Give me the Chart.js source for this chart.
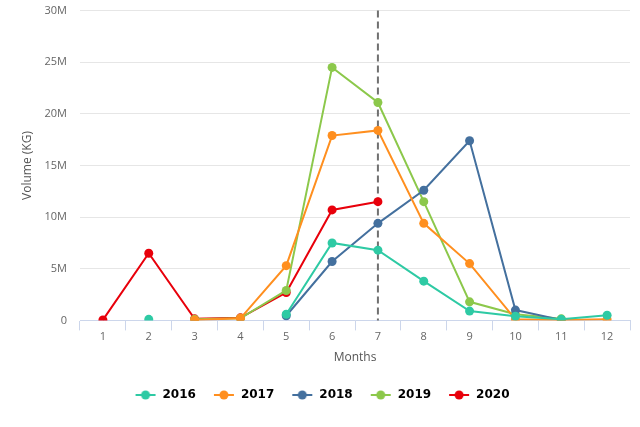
<!DOCTYPE html>
<html>
<head>
<meta charset="utf-8">
<script src="https://cdn.jsdelivr.net/npm/chart.js@4"></script>
<style>
  html, body { margin: 0; padding: 0; background: #fff; overflow: hidden; }
  #wrap { width: 640px; height: 436px; margin-top: -9px; }
</style>
</head>
<body>
<div id="wrap"><canvas id="chart"></canvas></div>
<script>
// month labels on the x axis
const months = ['1', '2', '3', '4', '5', '6', '7', '8', '9', '10', '11', '12'];

// volumes in kg per month, null where the year has no value
const vol2016 = [null, 0.1e6, null, null, 0.6e6, 7.5e6, 6.8e6, 3.8e6, 0.9e6, 0.4e6, 0.1e6, 0.5e6];
const vol2017 = [null, null, 0.05e6, 0.2e6, 5.3e6, 17.9e6, 18.4e6, 9.4e6, 5.5e6, 0.1e6, 0.05e6, 0.1e6];
const vol2018 = [null, null, null, null, 0.45e6, 5.7e6, 9.4e6, 12.6e6, 17.4e6, 1.0e6, 0.05e6, null];
const vol2019 = [null, null, 0.1e6, 0.2e6, 2.9e6, 24.5e6, 21.1e6, 11.5e6, 1.8e6, 0.6e6, 0.15e6, null];
const vol2020 = [0.05e6, 6.5e6, 0.15e6, 0.25e6, 2.7e6, 10.7e6, 11.5e6, null, null, null, null, null];

const years = ['2016', '2017', '2018', '2019', '2020'];
const colors = ['#2ecaa4', '#ff8f1f', '#44709e', '#8cc84b', '#e8000b'];
const series = [vol2016, vol2017, vol2018, vol2019, vol2020];

// month where the dashed marker sits
const markerMonth = '7';

// y tick values
const yMax = 30e6;
const yStep = 5e6;

function legendMarker(color) {
    const c = document.createElement('canvas');
    c.width = 22;
    c.height = 10;
    const g = c.getContext('2d');
    g.strokeStyle = color;
    g.lineWidth = 2;
    g.beginPath();
    g.moveTo(1, 5);
    g.lineTo(21, 5);
    g.stroke();
    g.fillStyle = color;
    g.beginPath();
    g.arc(11, 5, 4.5, 0, Math.PI * 2);
    g.fill();
    return c;
}

const markerLine = {
    id: 'markerLine',
    beforeDatasetsDraw(chart) {
        const x = chart.scales.x.getPixelForValue(months.indexOf(markerMonth));
        const area = chart.chartArea;
        const ctx = chart.ctx;
        ctx.save();
        ctx.strokeStyle = '#707070';
        ctx.lineWidth = 2;
        ctx.setLineDash([7, 4]);
        ctx.beginPath();
        ctx.moveTo(x, area.top);
        ctx.lineTo(x, area.bottom);
        ctx.stroke();
        ctx.restore();
    }
};

const ctx = document.getElementById('chart').getContext('2d');
new Chart(ctx, {
    type: 'line',
    data: {
        labels: months,
        datasets: series.map((data, i) => ({
            label: years[i],
            data: data,
            borderColor: colors[i],
            backgroundColor: colors[i],
            borderWidth: 2,
            pointRadius: 4.5,
            pointHoverRadius: 4.5,
            pointBorderWidth: 0,
            pointStyle: 'circle',
            spanGaps: false,
            tension: 0,
        })),
    },
    options: {
        responsive: true,
        maintainAspectRatio: false,
        animation: false,
        layout: { padding: { left: 14, right: 10, top: 0, bottom: 16 } },
        plugins: {
            tooltip: { enabled: false },
            legend: {
                position: 'bottom',
                labels: {
                    usePointStyle: true,
                    pointStyleWidth: 22,
                    padding: 17,
                    color: '#222',
                    font: { family: 'DejaVu Sans', size: 12, weight: 'bold' },
                    generateLabels(chart) {
                        return chart.data.datasets.map((ds, i) => ({
                            text: ds.label,
                            pointStyle: legendMarker(colors[i]),
                            fillStyle: colors[i],
                            strokeStyle: colors[i],
                            lineWidth: 0,
                            hidden: false,
                            datasetIndex: i,
                        }));
                    },
                },
            },
        },
        scales: {
            x: {
                offset: true,
                grid: {
                    offset: true,
                    drawOnChartArea: false,
                    drawTicks: true,
                    tickLength: 10,
                    color: '#ccd6eb',
                },
                border: { color: '#ccd6eb' },
                ticks: {
                    color: '#666',
                    padding: 0,
                    font: { family: 'Open Sans', size: 11 },
                },
                title: {
                    display: true,
                    text: 'Months',
                    color: '#555',
                    padding: { top: 7, bottom: 7 },
                    font: { family: 'Open Sans', size: 12 },
                },
            },
            y: {
                min: 0,
                max: yMax,
                afterFit(scale) { scale.width = 66; },
                grid: { color: '#e6e6e6', drawTicks: false },
                border: { display: false },
                ticks: {
                    stepSize: yStep,
                    color: '#666',
                    padding: 13,
                    font: { family: 'Open Sans', size: 11 },
                    callback: v => v === 0 ? '0' : (v / 1e6) + 'M',
                },
                title: {
                    display: true,
                    text: 'Volume (KG)',
                    color: '#555',
                    padding: { top: 6, bottom: 0 },
                    font: { family: 'Open Sans', size: 12 },
                },
            },
        },
    },
    plugins: [markerLine],
});
</script>
</body>
</html>
